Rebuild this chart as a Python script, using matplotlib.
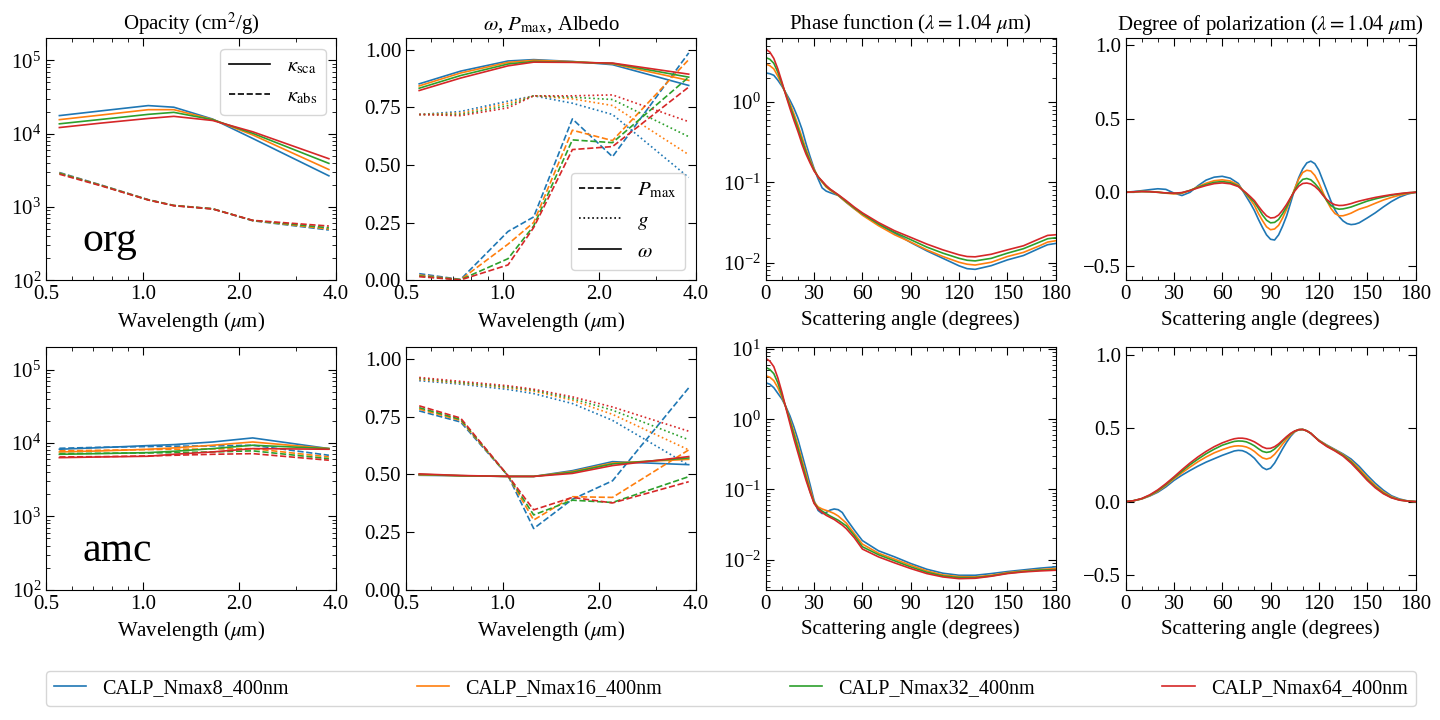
import matplotlib
matplotlib.use('Agg')
import matplotlib.pyplot as plt
import matplotlib.ticker as ticker
from matplotlib.lines import Line2D

plt.rcParams['font.family'] = ['Liberation Serif', 'DejaVu Serif']
plt.rcParams['mathtext.fontset'] = 'stix'
plt.rcParams['font.size'] = 15

# Models and wavelengths
models = ['CALP_Nmax8_400nm', 'CALP_Nmax16_400nm', 'CALP_Nmax32_400nm', 'CALP_Nmax64_400nm']
colors = ['C0', 'C1', 'C2', 'C3']
wl = [0.55, 0.74, 1.04, 1.25, 1.65, 2.2, 3.8]

# org: opacities (cm^2/g)
org_ksca = [
    [17600, 20400, 24100, 22900, 15800, 8600, 2660],
    [15500, 17900, 21200, 21200, 15600, 9600, 3240],
    [13600, 15600, 18300, 19500, 15500, 10100, 3930],
    [12100, 13900, 16100, 17200, 15100, 10600, 4550],
]
org_kabs = [
    [2950, 2000, 1260, 1050, 946, 650, 486],
    [2900, 1980, 1255, 1050, 946, 654, 500],
    [2870, 1970, 1250, 1045, 944, 656, 520],
    [2800, 1950, 1245, 1040, 940, 658, 550],
]
# org: albedo, g, Pmax
org_omega = [
    [0.852, 0.907, 0.951, 0.957, 0.949, 0.935, 0.845],
    [0.843, 0.899, 0.945, 0.954, 0.948, 0.939, 0.867],
    [0.833, 0.888, 0.938, 0.949, 0.946, 0.941, 0.881],
    [0.823, 0.877, 0.930, 0.946, 0.945, 0.942, 0.894],
]
org_g = [
    [0.719, 0.732, 0.777, 0.800, 0.768, 0.719, 0.446],
    [0.719, 0.725, 0.768, 0.800, 0.787, 0.758, 0.545],
    [0.719, 0.719, 0.758, 0.800, 0.794, 0.784, 0.623],
    [0.719, 0.714, 0.748, 0.800, 0.800, 0.804, 0.688],
]
org_pmax = [
    [0.029, 0.004, 0.212, 0.275, 0.700, 0.536, 0.986],
    [0.023, 0.003, 0.157, 0.251, 0.651, 0.606, 0.957],
    [0.019, 0.003, 0.094, 0.236, 0.609, 0.597, 0.881],
    [0.016, 0.002, 0.067, 0.229, 0.567, 0.580, 0.838],
]

# amc: opacities (cm^2/g)
amc_ksca = [
    [8200, 8630, 9200, 9490, 10300, 11700, 8370],
    [7540, 7780, 8200, 8550, 9300, 10300, 8370],
    [7000, 7160, 7380, 7690, 8370, 9300, 8370],
    [6300, 6440, 6580, 7000, 7540, 8370, 8200],
]
amc_kabs = [
    [8450, 8730, 8920, 9020, 9100, 9300, 6790],
    [7800, 7940, 8110, 8200, 8280, 8370, 6440],
    [7150, 7230, 7310, 7380, 7540, 7800, 6100],
    [6440, 6500, 6650, 6790, 7000, 7150, 5810],
]
# amc: albedo, g, Pmax
amc_omega = [
    [0.496, 0.494, 0.491, 0.491, 0.516, 0.555, 0.542],
    [0.498, 0.494, 0.491, 0.491, 0.512, 0.549, 0.565],
    [0.500, 0.494, 0.491, 0.491, 0.509, 0.545, 0.571],
    [0.502, 0.495, 0.491, 0.491, 0.504, 0.538, 0.577],
]
amc_g = [
    [0.906, 0.891, 0.868, 0.850, 0.807, 0.734, 0.540],
    [0.911, 0.895, 0.875, 0.860, 0.821, 0.760, 0.606],
    [0.916, 0.898, 0.879, 0.865, 0.828, 0.778, 0.650],
    [0.920, 0.903, 0.884, 0.869, 0.836, 0.792, 0.687],
]
amc_pmax = [
    [0.775, 0.727, 0.494, 0.265, 0.392, 0.472, 0.875],
    [0.783, 0.734, 0.494, 0.302, 0.403, 0.400, 0.606],
    [0.789, 0.738, 0.494, 0.324, 0.388, 0.378, 0.490],
    [0.797, 0.744, 0.494, 0.346, 0.400, 0.376, 0.468],
]

# org: phase function at 1.04 um
org_ang = [0, 2.5, 5, 7.5, 10, 12.5, 15, 17.5, 20, 22.5, 25, 27.5, 30, 32.5, 35, 37.5,
           40, 45, 50, 55, 60, 70, 80, 90, 100, 110, 120, 125, 130, 140, 150, 160,
           170, 175, 180]
org_phase = [
    [2.29, 2.24, 2.14, 1.86, 1.57, 1.29, 1.05, 0.832, 0.631, 0.457, 0.302, 0.209,
     0.148, 0.110, 0.0851, 0.0776, 0.0741, 0.0684, 0.0562, 0.0468, 0.0398, 0.0297,
     0.0233, 0.0178, 0.0140, 0.0113, 0.00912, 0.00841, 0.00824, 0.00916, 0.0108,
     0.01225, 0.0151, 0.0167, 0.0173],
    [2.95, 2.82, 2.57, 2.09, 1.64, 1.26, 0.955, 0.708, 0.513, 0.363, 0.257, 0.191,
     0.145, 0.117, 0.100, 0.0871, 0.0794, 0.0684, 0.0562, 0.0468, 0.0389, 0.0288,
     0.0222, 0.0180, 0.0144, 0.0119, 0.0101, 0.00955, 0.00933, 0.0101, 0.0119,
     0.0134, 0.0162, 0.0180, 0.0187],
    [3.55, 3.39, 3.02, 2.34, 1.70, 1.23, 0.891, 0.646, 0.468, 0.331, 0.240, 0.182,
     0.141, 0.117, 0.102, 0.0891, 0.0813, 0.0692, 0.0575, 0.0479, 0.0405, 0.0303,
     0.0238, 0.0193, 0.0156, 0.0131, 0.0113, 0.0107, 0.0105, 0.0113, 0.0131,
     0.0149, 0.0180, 0.0198, 0.0204],
    [4.52, 4.17, 3.47, 2.57, 1.78, 1.20, 0.832, 0.589, 0.427, 0.302, 0.224, 0.174,
     0.138, 0.117, 0.1035, 0.0912, 0.0822, 0.0700, 0.0589, 0.0490, 0.0416, 0.0315,
     0.0249, 0.0206, 0.0170, 0.0144, 0.0125, 0.0119, 0.0118, 0.0127, 0.0144,
     0.0162, 0.0198, 0.0218, 0.0222],
]
# org: degree of polarization at 1.04 um
org_pol_ang = [0, 5, 10, 15, 20, 25, 30, 35, 40, 45, 50, 55, 60, 65, 70,
               75, 77.5, 80, 82.5, 85, 87.5, 90, 92.5, 95, 97.5, 100, 102.5, 105,
               107.5, 110, 112.5, 115, 117.5, 120, 122.5, 125, 127.5, 130, 132.5,
               135, 137.5, 140, 142.5, 145,
               150, 155, 160, 165, 170, 175, 180]
org_pol = [
    [0.0, 0.005, 0.011, 0.018, 0.024, 0.020, -0.005, -0.022, 0.0, 0.045, 0.083, 0.103,
     0.109, 0.096, 0.060,
     -0.030, -0.075, -0.125, -0.185, -0.240, -0.290, -0.320, -0.325, -0.290, -0.230,
     -0.160, -0.070, 0.020, 0.100, 0.160, 0.200, 0.212, 0.195, 0.150, 0.080, 0.010,
     -0.060, -0.120, -0.165, -0.195, -0.213, -0.220, -0.217, -0.208,
     -0.175, -0.140, -0.100, -0.063, -0.033, -0.012, 0.0],
    [0.0, 0.003, 0.006, 0.005, 0.002, -0.006, -0.011, -0.007, 0.012, 0.038, 0.062,
     0.079, 0.085, 0.077, 0.050,
     -0.015, -0.050, -0.090, -0.145, -0.193, -0.235, -0.255, -0.250, -0.225, -0.175,
     -0.115, -0.045, 0.025, 0.090, 0.135, 0.150, 0.145, 0.115, 0.065, 0.0, -0.060,
     -0.110, -0.145, -0.160, -0.160, -0.152, -0.142, -0.128, -0.115,
     -0.098, -0.075, -0.053, -0.035, -0.020, -0.008, 0.0],
    [0.0, 0.003, 0.005, 0.004, 0.0, -0.005, -0.007, -0.003, 0.013, 0.034, 0.053,
     0.068, 0.073, 0.066, 0.043,
     -0.010, -0.040, -0.068, -0.110, -0.155, -0.190, -0.208, -0.205, -0.185, -0.145,
     -0.098, -0.040, 0.015, 0.060, 0.088, 0.094, 0.085, 0.060, 0.028, -0.015, -0.058,
     -0.090, -0.108, -0.115, -0.113, -0.107, -0.100, -0.090, -0.080,
     -0.060, -0.045, -0.032, -0.020, -0.011, -0.004, 0.0],
    [0.0, 0.003, 0.005, 0.004, 0.0, -0.004, -0.006, -0.002, 0.012, 0.030, 0.046,
     0.059, 0.064, 0.058, 0.039,
     -0.005, -0.030, -0.057, -0.095, -0.130, -0.160, -0.175, -0.172, -0.155, -0.122,
     -0.082, -0.035, 0.008, 0.042, 0.060, 0.063, 0.057, 0.040, 0.015, -0.020, -0.050,
     -0.072, -0.085, -0.090, -0.089, -0.084, -0.077, -0.068, -0.060,
     -0.047, -0.035, -0.025, -0.016, -0.009, -0.003, 0.0],
]

# amc: phase function at 1.04 um
amc_ang = [0, 2.5, 5, 7.5, 10, 12.5, 15, 17.5, 20, 22.5, 25, 27.5, 30, 32.5, 35, 37.5,
           40, 42.5, 45, 47.5, 50, 55, 60, 70, 80, 90, 100, 110, 120, 130, 140, 150,
           160, 170, 180]
amc_phase = [
    [3.31, 3.16, 2.82, 2.34, 1.95, 1.51, 1.12, 0.776, 0.513, 0.316, 0.195, 0.1175,
     0.0692, 0.0501, 0.0452, 0.0468, 0.0507, 0.0525, 0.0513, 0.0468, 0.0380, 0.0263,
     0.0186, 0.0133, 0.0109, 0.00877, 0.00726, 0.00637, 0.00596, 0.00596, 0.00630,
     0.00673, 0.00711, 0.00752, 0.00785],
    [4.17, 3.98, 3.55, 2.82, 2.09, 1.48, 1.00, 0.661, 0.427, 0.263, 0.166, 0.102,
     0.0661, 0.0562, 0.0525, 0.0501, 0.0479, 0.0452, 0.0417, 0.0372, 0.0331, 0.0234,
     0.0166, 0.0123, 0.0101, 0.0083, 0.00687, 0.00603, 0.00570, 0.00564, 0.00596,
     0.00650, 0.00687, 0.00718, 0.00743],
    [5.50, 5.13, 4.47, 3.31, 2.24, 1.48, 0.955, 0.603, 0.380, 0.234, 0.148, 0.0933,
     0.0646, 0.0537, 0.0490, 0.0452, 0.0417, 0.0389, 0.0363, 0.0331, 0.0302, 0.0219,
     0.0152, 0.0117, 0.00957, 0.00785, 0.00658, 0.00583, 0.00552, 0.00552, 0.00583,
     0.00637, 0.00673, 0.00703, 0.00718],
    [7.35, 6.76, 5.62, 3.89, 2.45, 1.45, 0.871, 0.525, 0.331, 0.209, 0.135, 0.0912,
     0.0631, 0.0525, 0.0468, 0.0427, 0.0398, 0.0372, 0.0339, 0.0309, 0.0275, 0.0204,
     0.0141, 0.0109, 0.00895, 0.00743, 0.00630, 0.00564, 0.00533, 0.00540, 0.00577,
     0.00630, 0.00665, 0.00687, 0.00703],
]
# amc: degree of polarization at 1.04 um
amc_pol_ang = [0, 5, 10, 15, 20, 25, 30, 35, 40, 45, 50, 55, 60, 65,
               67.5, 70, 72.5, 75, 77.5, 80, 82.5, 85, 87.5, 90, 92.5, 95, 97.5, 100,
               102.5, 105, 107.5, 110, 112.5, 115, 117.5,
               120, 125, 130, 135, 140, 145, 150, 155, 160, 165, 170, 175, 180]
amc_pol = [
    [0.0, 0.006, 0.018, 0.038, 0.064, 0.100, 0.144, 0.180, 0.212, 0.242, 0.269, 0.292,
     0.315, 0.335,
     0.345, 0.349, 0.347, 0.336, 0.318, 0.295, 0.262, 0.232, 0.218, 0.228, 0.262,
     0.310, 0.360, 0.405, 0.445, 0.475, 0.490, 0.492, 0.482, 0.465, 0.440,
     0.418, 0.385, 0.355, 0.325, 0.290, 0.240, 0.180, 0.125, 0.078, 0.040, 0.018,
     0.005, 0.0],
    [0.0, 0.006, 0.018, 0.040, 0.070, 0.110, 0.155, 0.196, 0.235, 0.272, 0.304, 0.332,
     0.354, 0.372,
     0.378, 0.380, 0.378, 0.372, 0.360, 0.342, 0.318, 0.298, 0.290, 0.298, 0.322,
     0.355, 0.392, 0.425, 0.455, 0.477, 0.490, 0.492, 0.482, 0.466, 0.440,
     0.418, 0.382, 0.352, 0.320, 0.278, 0.225, 0.165, 0.110, 0.066, 0.033, 0.014,
     0.004, 0.0],
    [0.0, 0.006, 0.020, 0.043, 0.075, 0.116, 0.162, 0.207, 0.251, 0.290, 0.326, 0.357,
     0.384, 0.402,
     0.410, 0.413, 0.412, 0.407, 0.395, 0.380, 0.360, 0.342, 0.335, 0.340, 0.358,
     0.383, 0.412, 0.438, 0.462, 0.480, 0.490, 0.491, 0.482, 0.465, 0.440,
     0.415, 0.378, 0.348, 0.315, 0.270, 0.212, 0.152, 0.100, 0.058, 0.028, 0.011,
     0.003, 0.0],
    [0.0, 0.006, 0.021, 0.046, 0.080, 0.122, 0.168, 0.217, 0.263, 0.305, 0.342, 0.374,
     0.400, 0.420,
     0.428, 0.432, 0.432, 0.428, 0.419, 0.407, 0.390, 0.372, 0.362, 0.363, 0.374,
     0.393, 0.418, 0.443, 0.465, 0.481, 0.490, 0.491, 0.482, 0.465, 0.440,
     0.413, 0.375, 0.345, 0.310, 0.262, 0.205, 0.145, 0.094, 0.054, 0.026, 0.010,
     0.003, 0.0],
]

rows = [
    ('org', org_ksca, org_kabs, org_omega, org_g, org_pmax, org_ang, org_phase, org_pol_ang, org_pol),
    ('amc', amc_ksca, amc_kabs, amc_omega, amc_g, amc_pmax, amc_ang, amc_phase, amc_pol_ang, amc_pol),
]

fig, ax = plt.subplots(2, 4, figsize=(14.4, 7.2), dpi=100)
fig.subplots_adjust(left=0.032, right=0.983, top=0.947, bottom=0.181,
                    wspace=0.241, hspace=0.277)

lw = 1.2
for r, (name, ksca, kabs, omega, g, pmax, ang, phase, pang, pol) in enumerate(rows):
    a0, a1, a2, a3 = ax[r]
    for i in range(len(models)):
        a0.plot(wl, ksca[i], color=colors[i], ls='-', lw=lw)
        a0.plot(wl, kabs[i], color=colors[i], ls='--', lw=lw)
        a1.plot(wl, omega[i], color=colors[i], ls='-', lw=lw)
        a1.plot(wl, g[i], color=colors[i], ls=':', lw=lw)
        a1.plot(wl, pmax[i], color=colors[i], ls='--', lw=lw)
        a2.plot(ang, phase[i], color=colors[i], lw=lw)
        a3.plot(pang, pol[i], color=colors[i], lw=lw, label=models[i])

    # opacity
    a0.set_yscale('log')
    a0.set_ylim(1e2, 2e5)
    a0.text(0.125, 0.12, name, transform=a0.transAxes, fontsize=30)
    # albedo etc
    a1.set_ylim(0, 1.05)
    a1.yaxis.set_major_locator(ticker.MultipleLocator(0.25))
    for a in (a0, a1):
        a.set_xscale('log')
        a.set_xlim(0.5, 4.0)
        a.xaxis.set_major_locator(ticker.FixedLocator([0.5, 1.0, 2.0, 4.0]))
        a.xaxis.set_major_formatter(ticker.FormatStrFormatter('%.1f'))
        a.xaxis.set_minor_locator(ticker.LogLocator(subs=range(2, 10)))
        a.xaxis.set_minor_formatter(ticker.NullFormatter())
        a.set_xlabel(r'Wavelength ($\mu$m)')
    # phase function
    a2.set_yscale('log')
    # polarization
    a3.set_ylim(-0.6, 1.05)
    a3.yaxis.set_major_locator(ticker.MultipleLocator(0.5))
    for a in (a2, a3):
        a.set_xlim(0, 180)
        a.xaxis.set_major_locator(ticker.MultipleLocator(30))
        a.xaxis.set_minor_locator(ticker.MultipleLocator(10))
        a.set_xlabel('Scattering angle (degrees)')
    for a in ax[r]:
        a.tick_params(which='both', direction='in', top=True, right=True)
        a.tick_params(which='major', length=6)
        a.tick_params(which='minor', length=3)

ax[0, 0].set_title(r'Opacity (cm$^2$/g)', fontsize=15)
ax[0, 1].set_title(r'$\omega$, $P_{\rm max}$, Albedo', fontsize=15)
ax[0, 2].set_title(r'Phase function ($\lambda=1.04$ $\mu$m)', fontsize=15)
ax[0, 3].set_title(r'Degree of polarization ($\lambda=1.04$ $\mu$m)', fontsize=15)

k_handles = [Line2D([], [], color='k', ls='-', lw=lw),
             Line2D([], [], color='k', ls='--', lw=lw)]
ax[0, 0].legend(k_handles, [r'$\kappa_{\rm sca}$', r'$\kappa_{\rm abs}$'], loc='upper right')
p_handles = [Line2D([], [], color='k', ls='--', lw=lw),
             Line2D([], [], color='k', ls=':', lw=lw),
             Line2D([], [], color='k', ls='-', lw=lw)]
ax[0, 1].legend(p_handles, [r'$P_{\rm max}$', r'$g$', r'$\omega$'], loc='lower right')

handles, labels = ax[1, 3].get_legend_handles_labels()
fig.legend(handles, labels, loc='center', ncol=4, mode='expand', fontsize=14.5,
           handlelength=1.6, bbox_to_anchor=(0.025, 0.02, 0.965, 0.048))

fig.savefig('out.png')
